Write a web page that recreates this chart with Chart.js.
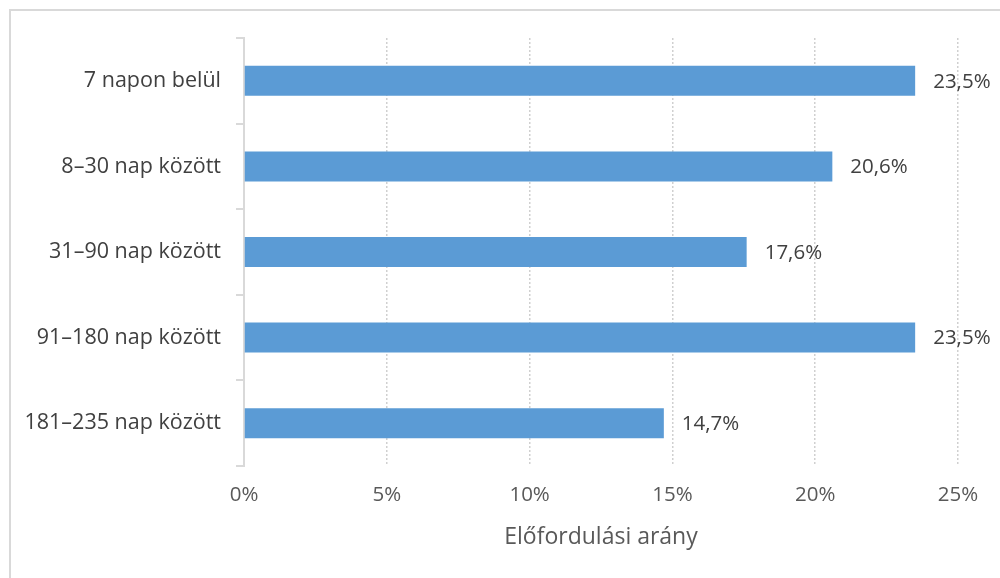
<!DOCTYPE html>
<html>
<head>
<meta charset="utf-8">
<script src="https://cdn.jsdelivr.net/npm/chart.js@4.4.1/dist/chart.umd.min.js"></script>
<style>
  html, body { margin: 0; padding: 0; background: #fff; overflow: hidden; }
  #wrap { position: relative; width: 1000px; height: 578px; }
  #frame { position: absolute; left: 9px; top: 9px; width: 1100px; height: 700px;
           border-top: 2px solid #d9d9d9; border-left: 2px solid #d9d9d9; box-sizing: border-box; }
  canvas { position: absolute; left: 0; top: 0; }
</style>
</head>
<body>
<div id="wrap">
  <div id="frame"></div>
  <canvas id="chart" width="1000" height="578"></canvas>
</div>
<script>
const categories = ['7 napon belül', '8–30 nap között', '31–90 nap között', '91–180 nap között', '181–235 nap között'];
const shares = [23.5, 20.6, 17.6, 23.5, 14.7];
const axisTitle = 'Előfordulási arány';

const FONT = '"Open Sans", "Noto Sans", sans-serif';

// simple value labels to the right of each bar
const barLabels = {
  id: 'barLabels',
  afterDatasetsDraw(chart) {
    const ctx = chart.ctx;
    const meta = chart.getDatasetMeta(0);
    ctx.save();
    ctx.font = '20.5px ' + FONT;
    ctx.fillStyle = '#404040';
    ctx.textAlign = 'left';
    ctx.textBaseline = 'middle';
    meta.data.forEach((bar, i) => {
      const txt = shares[i].toFixed(1).replace('.', ',') + '%';
      ctx.fillText(txt, bar.x + 18, bar.y + 1);
    });
    ctx.restore();
  }
};

Chart.defaults.font.family = FONT;
Chart.defaults.color = '#595959';

new Chart(document.getElementById('chart').getContext('2d'), {
  type: 'bar',
  data: {
    labels: categories,
    datasets: [{
      data: shares,
      backgroundColor: '#5b9bd5',
      borderWidth: 0,
      barPercentage: 0.35,
      categoryPercentage: 1
    }]
  },
  options: {
    indexAxis: 'y',
    responsive: false,
    animation: false,
    layout: { padding: { top: 38, right: 42, left: 0, bottom: 0 } },
    plugins: {
      legend: { display: false },
      tooltip: { enabled: false }
    },
    scales: {
      x: {
        min: 0,
        max: 25,
        afterFit(scale) { scale.height = 112; },
        ticks: {
          stepSize: 5,
          padding: 17,
          font: { size: 20.5 },
          color: '#595959',
          callback: v => v + '%'
        },
        grid: {
          drawTicks: false,
          color: ctx => ctx.index === 0 ? 'rgba(0,0,0,0)' : '#d0d0d0',
          lineWidth: 1.5
        },
        border: { display: false, dash: [2, 2] },
        title: {
          display: true,
          text: axisTitle,
          font: { size: 23 },
          color: '#595959',
          padding: { top: 4, bottom: 27 }
        }
      },
      y: {
        afterFit(scale) { scale.width = 244; },
        ticks: {
          padding: 15,
          font: { size: 21.5 },
          color: '#404040'
        },
        grid: {
          drawOnChartArea: false,
          drawTicks: true,
          tickLength: 8,
          color: '#d9d9d9',
          lineWidth: 2
        },
        border: { display: true, color: '#d9d9d9', width: 2 }
      }
    }
  },
  plugins: [barLabels]
});
</script>
</body>
</html>
